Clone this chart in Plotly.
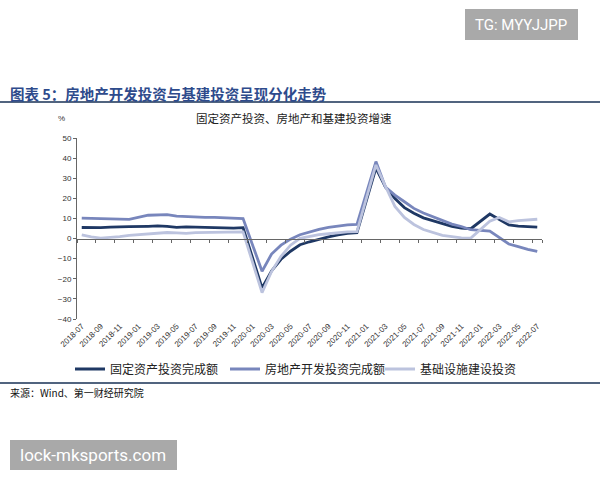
import plotly.graph_objects as go
import pandas as pd

# monthly cumulative YoY growth, %, 2018-07 .. 2022-07 (January has no release -> None)
months = pd.date_range("2018-07-01", "2022-07-01", freq="MS").strftime("%Y-%m").tolist()

fai = [5.5, 5.3, 5.4, 5.7, 5.9, 5.9, None, 6.1, 6.3, 6.1, 5.6, 5.8, 5.7, 5.5, 5.4, 5.2, 5.2, 5.4,
       None, -24.5, -16.1, -10.3, -6.3, -3.1, -1.6, -0.3, 0.8, 1.8, 2.6, 2.9,
       None, 35.0, 25.6, 19.9, 15.4, 12.6, 10.3, 8.9, 7.3, 6.1, 5.2, 4.9,
       None, 12.2, 9.3, 6.8, 6.2, 6.1, 5.7]
real_estate = [10.2, 10.1, 9.9, 9.7, 9.7, 9.5, None, 11.6, 11.8, 11.9, 11.2, 10.9, 10.6, 10.5, 10.5, 10.3, 10.2, 9.9,
               None, -16.3, -7.7, -3.3, -0.3, 1.9, 3.4, 4.6, 5.6, 6.3, 6.8, 7.0,
               None, 38.3, 25.6, 21.6, 18.3, 15.0, 12.7, 10.9, 8.8, 7.2, 6.0, 4.4,
               None, 3.7, 0.7, -2.7, -4.0, -5.4, -6.4]
infra = [1.8, 0.8, 0.2, 0.5, 1.0, 1.6, None, 2.2, 2.6, 3.0, 2.8, 2.6, 2.9, 3.0, 3.3, 3.4, 3.5, 3.3,
         None, -26.9, -16.4, -8.8, -3.3, 0.1, 1.2, 2.0, 2.4, 3.0, 3.3, 3.4,
         None, 36.6, 26.0, 16.0, 10.5, 7.0, 4.5, 2.9, 1.6, 1.0, 0.3, 0.2,
         None, 8.6, 10.5, 8.3, 8.9, 9.3, 9.6]

series_names = ["固定资产投资完成额", "房地产开发投资完成额", "基础设施建设投资"]
series_colors = ["#1f3864", "#7886bc", "#bcc3de"]

idx = list(range(len(months)))
label_idx = idx[::2]

CJK = "Noto Sans CJK SC"
NUM = "Liberation Sans"

# plot area in pixels
L, R, T, B = 77, 58, 138, 161
PW, PH = 600 - L - R, 480 - T - B


def xp(px):
    return (px - L) / PW


def yp(py):
    return (480 - B - py) / PH


fig = go.Figure()
for vals, name, color in zip([fai, real_estate, infra], series_names, series_colors):
    fig.add_trace(go.Scatter(
        x=idx, y=vals, name=name, mode="lines", connectgaps=True,
        line=dict(color=color, width=2.8),
    ))

# dummy trace so the tick axis on the zero line gets drawn
fig.add_trace(go.Scatter(x=[0], y=[0], xaxis="x2", mode="markers",
                         marker=dict(opacity=0), showlegend=False, hoverinfo="skip"))

fig.update_layout(
    width=600, height=480,
    margin=dict(l=L, r=R, t=T, b=B, autoexpand=False),
    paper_bgcolor="white", plot_bgcolor="white",
    font=dict(family=CJK, color="#222222"),
    showlegend=True,
    legend=dict(
        orientation="h", x=xp(70), xanchor="left", y=yp(369), yanchor="middle",
        font=dict(family=CJK, size=12, color="#222222"),
        itemwidth=30, entrywidth=110, entrywidthmode="pixels",
        bgcolor="rgba(0,0,0,0)", borderwidth=0,
    ),
    xaxis=dict(
        range=[-0.5, len(months) - 0.5], automargin=False,
        tickmode="array", tickvals=label_idx, ticktext=[months[i] for i in label_idx],
        tickangle=-45, tickfont=dict(family=NUM, size=8, color="#333333"),
        showline=False, showgrid=False, zeroline=False, ticks="",
    ),
    xaxis2=dict(
        overlaying="x", anchor="free", position=40 / 90, side="bottom",
        range=[-0.5, len(months) - 0.5], automargin=False,
        tickmode="array", tickvals=[i - 0.5 for i in label_idx] + [len(months) - 0.5],
        showticklabels=False, ticks="outside", ticklen=3, tickcolor="#666666",
        showline=True, linecolor="#666666", linewidth=1, showgrid=False, zeroline=False,
    ),
    yaxis=dict(
        range=[-40, 50], dtick=10, tickfont=dict(family=NUM, size=8, color="#333333"),
        showline=True, linecolor="#666666", linewidth=1, ticks="outside", ticklen=3,
        tickcolor="#666666", showgrid=False, zeroline=False, automargin=False,
    ),
)

shapes = [
    # rule under the header and above the source
    dict(type="line", xref="paper", yref="paper", x0=xp(0), x1=xp(600), y0=yp(102), y1=yp(102),
         line=dict(color="#51647f", width=2)),
    dict(type="line", xref="paper", yref="paper", x0=xp(0), x1=xp(600), y0=yp(383), y1=yp(383),
         line=dict(color="#51647f", width=2)),
    # watermark boxes
    dict(type="rect", xref="paper", yref="paper", x0=xp(465), x1=xp(578), y0=yp(40), y1=yp(9),
         fillcolor="#a9a9a9", line=dict(width=0)),
    dict(type="rect", xref="paper", yref="paper", x0=xp(10), x1=xp(177), y0=yp(470), y1=yp(440),
         fillcolor="#a9a9a9", line=dict(width=0)),
]
fig.update_layout(shapes=shapes)

annotations = [
    dict(text="<b>图表 5：房地产开发投资与基建投资呈现分化走势</b>", x=xp(8), y=yp(93),
         xanchor="left", yanchor="middle", font=dict(family=CJK, size=14.5, color="#2e4b8c")),
    dict(text="%", x=xp(61), y=yp(118), xanchor="center", yanchor="middle",
         font=dict(family=NUM, size=8, color="#333333")),
    dict(text="固定资产投资、房地产和基建投资增速", x=xp(294), y=yp(118), xanchor="center",
         yanchor="middle", font=dict(family=CJK, size=11.5, color="#222222")),
    dict(text="来源：Wind、第一财经研究院", x=xp(8), y=yp(392), xanchor="left", yanchor="middle",
         font=dict(family=CJK, size=10, color="#111111")),
    dict(text="TG: MYYJJPP", x=xp(521), y=yp(25), xanchor="center", yanchor="middle",
         font=dict(family="Roboto", size=15, color="white")),
    dict(text="lock-mksports.com", x=xp(93), y=yp(455), xanchor="center", yanchor="middle",
         font=dict(family="Roboto", size=17, color="white")),
]
for a in annotations:
    a.update(xref="paper", yref="paper", showarrow=False)
fig.update_layout(annotations=annotations)

# drop the browser's default 8px page margin so the figure sits at the window origin
fig.write_html("out.html", config={"displayModeBar": False},
               post_script="document.body.style.margin = '0';")
